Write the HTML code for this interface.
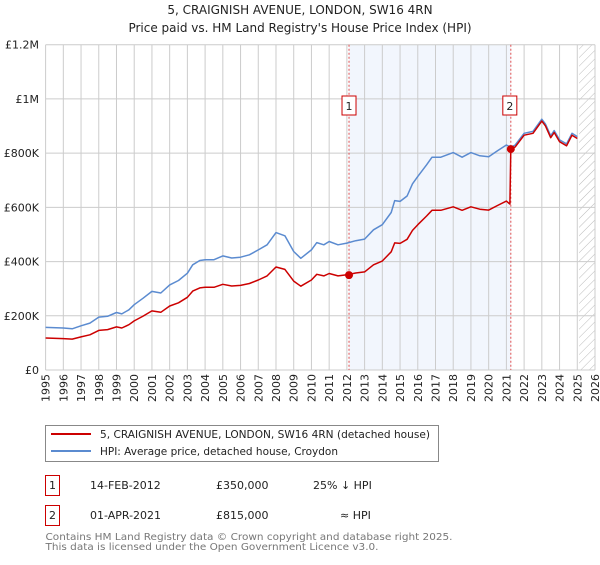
<!DOCTYPE html>
<html><head><meta charset="utf-8"><style>
body{margin:0;background:#fff;}
svg text{font-family:"DejaVu Sans","Liberation Sans",sans-serif;}
</style></head><body>
<svg id="chart" width="600" height="560" viewBox="0 0 600 560" xmlns="http://www.w3.org/2000/svg">
<defs><pattern id="hatch" width="6" height="6" patternUnits="userSpaceOnUse" patternTransform="rotate(45)"><line x1="0" y1="0" x2="0" y2="6" stroke="#bbb" stroke-width="1"/></pattern></defs>
<text x="300" y="14" font-size="12" text-anchor="middle" fill="#222">5, CRAIGNISH AVENUE, LONDON, SW16 4RN</text>
<text x="300" y="32" font-size="12" text-anchor="middle" fill="#222">Price paid vs. HM Land Registry's House Price Index (HPI)</text>
<g id="plot"></g>
<g>
<rect x="45.5" y="425.5" width="393" height="36" fill="#fff" stroke="#888"/>
<line x1="51" y1="434" x2="91" y2="434" stroke="#cc0000" stroke-width="2"/>
<text x="100" y="438" font-size="11" fill="#222" textLength="330" lengthAdjust="spacingAndGlyphs">5, CRAIGNISH AVENUE, LONDON, SW16 4RN (detached house)</text>
<line x1="51" y1="451" x2="91" y2="451" stroke="#5b8bd0" stroke-width="2"/>
<text x="100" y="455" font-size="11" fill="#222" textLength="238" lengthAdjust="spacingAndGlyphs">HPI: Average price, detached house, Croydon</text>
</g>
<g>
<rect x="45.5" y="475.5" width="14" height="20" fill="none" stroke="#cc0000"/>
<text x="52.5" y="489" font-size="11" text-anchor="middle" fill="#222">1</text>
<text x="90" y="489" font-size="11" fill="#222">14-FEB-2012</text>
<text x="216" y="489" font-size="11" fill="#222">£350,000</text>
<text x="313" y="489" font-size="11" fill="#222">25% ↓ HPI</text>
</g>
<g>
<rect x="45.5" y="505.5" width="14" height="20" fill="none" stroke="#cc0000"/>
<text x="52.5" y="519" font-size="11" text-anchor="middle" fill="#222">2</text>
<text x="90" y="519" font-size="11" fill="#222">01-APR-2021</text>
<text x="216" y="519" font-size="11" fill="#222">£815,000</text>
<text x="340" y="519" font-size="11" fill="#222">≈ HPI</text>
</g>
<text x="45.5" y="540" font-size="10" fill="#777" textLength="407" lengthAdjust="spacingAndGlyphs">Contains HM Land Registry data © Crown copyright and database right 2025.</text>
<text x="45.5" y="550" font-size="10" fill="#777" textLength="333" lengthAdjust="spacingAndGlyphs">This data is licensed under the Open Government Licence v3.0.</text>
</svg>
<script>
const hpiDates=[1995,1996,1996.5,1997,1997.5,1998,1998.5,1999,1999.3,1999.7,2000,2000.5,2001,2001.5,2002,2002.5,2003,2003.3,2003.7,2004,2004.5,2005,2005.5,2006,2006.5,2007,2007.5,2008,2008.5,2009,2009.4,2010,2010.3,2010.7,2011,2011.5,2012,2012.5,2013,2013.5,2014,2014.5,2014.7,2015,2015.4,2015.7,2016,2016.5,2016.8,2017.3,2018,2018.5,2019,2019.5,2020,2020.5,2021,2021.25,2021.5,2022,2022.5,2023,2023.2,2023.5,2023.7,2024,2024.4,2024.7,2025];
const hpiValues=[157,155,152,163,173,195,198,212,207,222,241,265,290,284,314,330,357,388,404,407,407,421,413,416,425,443,462,507,495,437,412,443,470,462,474,462,468,477,483,517,536,581,625,622,642,687,714,757,785,785,802,785,802,790,787,809,830,822,830,873,880,925,908,864,883,849,834,873,861];
const redDates=[1995,1996,1996.5,1997,1997.5,1998,1998.5,1999,1999.3,1999.7,2000,2000.5,2001,2001.5,2002,2002.5,2003,2003.3,2003.7,2004,2004.5,2005,2005.5,2006,2006.5,2007,2007.5,2008,2008.5,2009,2009.4,2010,2010.3,2010.7,2011,2011.5,2012,2012.5,2013,2013.5,2014,2014.5,2014.7,2015,2015.4,2015.7,2016,2016.5,2016.8,2017.3,2018,2018.5,2019,2019.5,2020,2020.5,2021,2021.2,2021.25,2021.5,2022,2022.5,2023,2023.2,2023.5,2023.7,2024,2024.4,2024.7,2025];
const redValues=[118,116,114,122,130,146,149,159,155,167,181,199,218,213,236,248,268,291,303,305,305,316,310,312,319,332,347,380,371,328,309,332,353,347,356,347,351,358,362,388,402,436,469,467,482,515,536,568,589,589,602,589,602,593,590,607,623,612,815,823,866,873,918,901,857,876,842,827,866,854];
const saleDates=[2012.12,2021.25];
const saleValues=[350,815];
const saleLabels=["1","2"];
const yTicks=[0,200,400,600,800,1000,1200];
const yTickLabels=["£0","£200K","£400K","£600K","£800K","£1M","£1.2M"];
const xYears=[1995,1996,1997,1998,1999,2000,2001,2002,2003,2004,2005,2006,2007,2008,2009,2010,2011,2012,2013,2014,2015,2016,2017,2018,2019,2020,2021,2022,2023,2024,2025,2026];

const L=45.6,R=595,T=44.7,B=370;
const xs=y=>L+(y-1995)*(R-L)/31;
const ys=v=>B-v*(B-T)/1200;
const NS="http://www.w3.org/2000/svg";
const plot=document.getElementById('plot');
function mk(tag,attrs,parent){const e=document.createElementNS(NS,tag);for(const k in attrs)e.setAttribute(k,attrs[k]);(parent||plot).appendChild(e);return e;}

const shade=mk('rect',{x:xs(saleDates[0]),y:T,width:xs(saleDates[1])-xs(saleDates[0]),height:B-T,fill:'#f2f6fd'});


const hatch=mk('rect',{x:xs(2025.1),y:T,width:R-xs(2025.1),height:B-T,fill:'url(#hatch)'});



yTicks.forEach((v,i)=>{
  const g=mk('line',{x1:L,x2:R,y1:ys(v),y2:ys(v),stroke:'#ccc','stroke-width':1});
  
  
  const t=mk('text',{x:39,y:ys(v)+4,'font-size':11,'text-anchor':'end',fill:'#222'});
  t.textContent=yTickLabels[i];
  
  
});
xYears.forEach(yr=>{
  const g=mk('line',{x1:xs(yr),x2:xs(yr),y1:T,y2:B,stroke:'#ccc','stroke-width':1});
  
  
  const t=mk('text',{x:0,y:0,'font-size':11,'text-anchor':'end',fill:'#222',transform:`translate(${xs(yr)+4},374) rotate(-90)`});
  t.textContent=yr;
  
  
});
saleDates.forEach((d,i)=>{
  const l=mk('line',{x1:xs(d),x2:xs(d),y1:T,y2:B,stroke:'#e05050','stroke-width':1,'stroke-dasharray':'2,2'});
  
  
});
function path(dates,vals,color,name){
  const d=dates.map((x,i)=>(i?'L':'M')+xs(x).toFixed(1)+','+ys(vals[i]).toFixed(1)).join('');
  const p=mk('path',{d:d,fill:'none',stroke:color,'stroke-width':1.5,'stroke-linejoin':'round'});
  
  
}
path(hpiDates,hpiValues,'#5b8bd0','hpi-line');
path(redDates,redValues,'#cc0000','price-paid-line');
saleDates.forEach((d,i)=>{
  const c=mk('circle',{cx:xs(d),cy:ys(saleValues[i]),r:4,fill:'#cc0000'});
  
  
  const bx=xs(d)-7-(i?1:0);
  const r=mk('rect',{x:bx,y:96,width:14,height:19,fill:'#fff',stroke:'#cc0000'});
  
  
  const t=mk('text',{x:bx+7,y:110,'font-size':11,'text-anchor':'middle',fill:'#222'});
  t.textContent=saleLabels[i];
  
  
});
</script>
</body></html>
